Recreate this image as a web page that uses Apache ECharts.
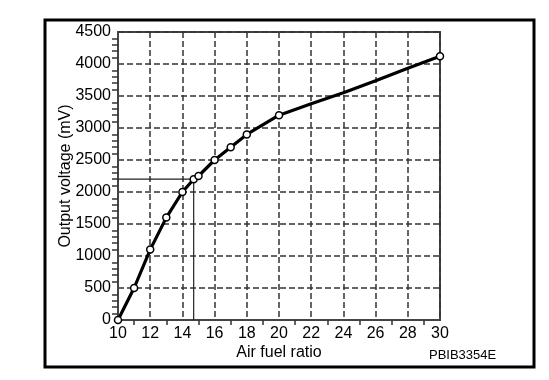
<!DOCTYPE html>
<html>
<head>
<meta charset="utf-8">
<script src="https://cdn.jsdelivr.net/npm/echarts@6/dist/echarts.min.js"></script>
<style>html,body{margin:0;padding:0;background:#fff;}#c{width:549px;height:380px;}</style>
</head>
<body>
<div id="c"></div>
<script>
// Data
var airFuelRatio = [10, 11, 12, 13, 14, 14.7, 15, 16, 17, 18, 20, 22, 24, 26, 28, 30];
var outputVoltage = [0, 500, 1100, 1600, 2000, 2200, 2250, 2500, 2700, 2900, 3200, 3380, 3550, 3740, 3935, 4120];
var hasMarker = [true, true, true, true, true, true, true, true, true, true, true, false, false, false, false, true];
var refRatio = 14.7;
var refVoltage = 2200;
var xTicks = [10, 12, 14, 16, 18, 20, 22, 24, 26, 28, 30];
var yTicks = [0, 500, 1000, 1500, 2000, 2500, 3000, 3500, 4000, 4500];

var font = 'Liberation Sans, Arial, Helvetica, sans-serif';
var chart = echarts.init(document.getElementById('c'), null, {renderer: 'canvas'});

var curveData = airFuelRatio.map(function (x, i) {
  return {value: [x, outputVoltage[i]], symbol: hasMarker[i] ? 'circle' : 'none'};
});

chart.setOption({
  animation: false,
  backgroundColor: '#fff',
  graphic: [
    {type: 'rect', shape: {x: 45, y: 20, width: 489, height: 347},
     style: {fill: 'none', stroke: '#000', lineWidth: 3}, z: 100},
    {type: 'text', left: 429, top: 349,
     style: {text: 'PBIB3354E', font: '13px ' + font, fill: '#000'}}
  ],
  grid: {left: 118, top: 32, width: 322, height: 288, show: true,
         borderColor: '#444', borderWidth: 2, backgroundColor: 'transparent'},
  xAxis: {
    type: 'value', min: xTicks[0], max: xTicks[xTicks.length - 1], interval: 2,
    name: 'Air fuel ratio', nameLocation: 'middle', nameGap: 25, nameMoveOverlap: false,
    nameTextStyle: {color: '#000', fontSize: 16, fontFamily: font},
    axisLine: {show: true, lineStyle: {color: '#444', width: 2}},
    axisTick: {show: false},
    minorTick: {show: true, splitNumber: 2, length: 5, lineStyle: {color: '#333', width: 1.5}},
    axisLabel: {color: '#000', fontSize: 16, fontFamily: font, margin: 6,
                formatter: function (v) { return String(v); }},
    splitLine: {show: true, lineStyle: {color: '#333', width: 1.5, type: [6, 3]}},
    minorSplitLine: {show: false}
  },
  yAxis: {
    type: 'value', min: yTicks[0], max: yTicks[yTicks.length - 1], interval: 500,
    name: 'Output voltage (mV)', nameLocation: 'middle', nameGap: 44, nameMoveOverlap: false,
    nameTextStyle: {color: '#000', fontSize: 16, fontFamily: font},
    axisLine: {show: true, lineStyle: {color: '#444', width: 2}},
    axisTick: {show: false},
    minorTick: {show: true, splitNumber: 5, length: 6, lineStyle: {color: '#333', width: 1.5}},
    axisLabel: {color: '#000', fontSize: 16, fontFamily: font, margin: 7,
                formatter: function (v) { return String(v); }},
    splitLine: {show: true, lineStyle: {color: '#333', width: 1.5, type: [6, 3]}},
    minorSplitLine: {show: false}
  },
  series: [
    {
      type: 'line', data: [[xTicks[0], refVoltage], [refRatio, refVoltage], [refRatio, yTicks[0]]],
      symbol: 'none', lineStyle: {color: '#222', width: 1.2}, z: 3, silent: true
    },
    {
      type: 'line', data: curveData, clip: false,
      symbolSize: 7,
      itemStyle: {color: '#fff', borderColor: '#000', borderWidth: 1.5},
      lineStyle: {color: '#000', width: 3.2}, z: 5
    }
  ]
});
</script>
</body>
</html>
